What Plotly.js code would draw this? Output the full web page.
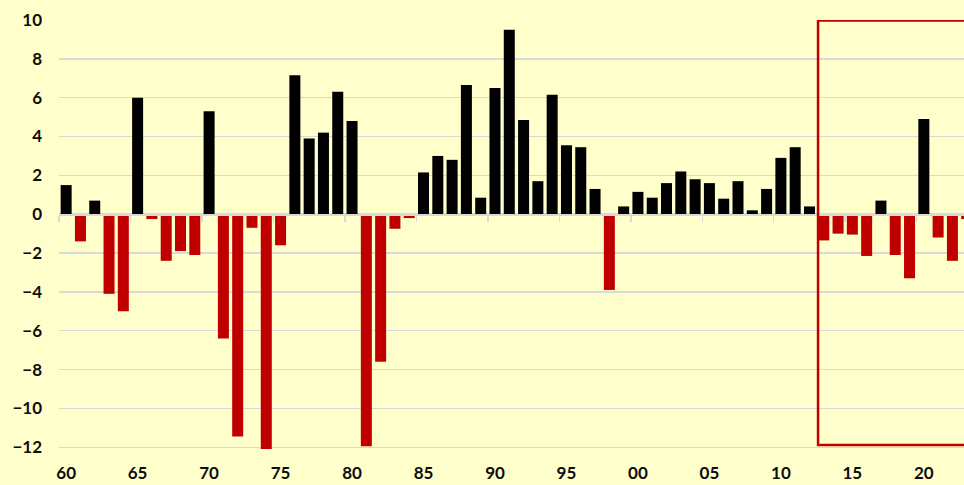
<!DOCTYPE html>
<html>
<head>
<meta charset="utf-8">
<script src="https://cdn.plot.ly/plotly-3.0.1.min.js"></script>
<style>html,body{margin:0;padding:0;background:#FFFFCC;}#chart{width:964px;height:485px;}</style>
</head>
<body>
<div id="chart"></div>
<script>
// Years 1960..2023
const years = [1960,1961,1962,1963,1964,1965,1966,1967,1968,1969,
               1970,1971,1972,1973,1974,1975,1976,1977,1978,1979,
               1980,1981,1982,1983,1984,1985,1986,1987,1988,1989,
               1990,1991,1992,1993,1994,1995,1996,1997,1998,1999,
               2000,2001,2002,2003,2004,2005,2006,2007,2008,2009,
               2010,2011,2012,2013,2014,2015,2016,2017,2018,2019,
               2020,2021,2022,2023];
const values = [1.5,-1.4,0.7,-4.1,-5.0,6.0,-0.25,-2.4,-1.9,-2.1,
                5.3,-6.4,-11.45,-0.7,-12.1,-1.6,7.15,3.9,4.2,6.3,
                4.8,-11.95,-7.6,-0.75,-0.2,2.15,3.0,2.8,6.65,0.85,
                6.5,9.5,4.85,1.7,6.15,3.55,3.45,1.3,-3.9,0.4,
                1.15,0.85,1.6,2.2,1.8,1.6,0.8,1.7,0.2,1.3,
                2.9,3.45,0.4,-1.35,-1.0,-1.05,-2.15,0.7,-2.1,-3.3,
                4.9,-1.2,-2.4,-0.25];
const xTickVals = [1960,1965,1970,1975,1980,1985,1990,1995,2000,2005,2010,2015,2020];
const xTickText = ["60","65","70","75","80","85","90","95","00","05","10","15","20"];
const yTickVals = [-12,-10,-8,-6,-4,-2,0,2,4,6,8,10];
const boundaryTicks = [1959.5,1964.5,1969.5,1974.5,1979.5,1984.5,1989.5,1994.5,1999.5,2004.5,2009.5,2014.5,2019.5];
const boxYears = [2012.6, 2024];
const boxValues = [-11.88, 9.97];

const POS = '#000000', NEG = '#C00000', GRID = '#D9D9D9', BG = '#FFFFCC';
const xRange = [1959.5, 2022.81];
const yRange = [-12.09, 10];
const font = {family: 'Lato, "Open Sans", sans-serif', size: 17, color: '#0D0D0D', weight: 700};

const traces = [
  {
    type: 'bar', x: years, y: values,
    marker: {color: values.map(v => v >= 0 ? POS : NEG), line: {width: 0}},
    hoverinfo: 'x+y', showlegend: false
  },
  {
    type: 'scatter', mode: 'none', x: years, y: values, xaxis: 'x2',
    hoverinfo: 'skip', showlegend: false
  }
];

const layout = {
  width: 964, height: 485,
  margin: {l: 59, r: 0, t: 20, b: 36, pad: 0},
  paper_bgcolor: BG, plot_bgcolor: BG,
  bargap: 0.23,
  font: font,
  showlegend: false,
  xaxis: {
    range: xRange, tickvals: xTickVals, ticktext: xTickText,
    showgrid: false, zeroline: false, showline: false, ticks: '',
    tickfont: font, ticklabelstandoff: 12, fixedrange: true
  },
  xaxis2: {
    overlaying: 'x', anchor: 'free', position: -yRange[0] / (yRange[1] - yRange[0]), range: xRange,
    tickvals: boundaryTicks, showticklabels: false, ticks: 'outside', ticklen: 6,
    tickcolor: GRID, tickwidth: 1.5, showline: true, linecolor: GRID, linewidth: 1.5,
    showgrid: false, zeroline: false, fixedrange: true
  },
  yaxis: {
    range: yRange, tickvals: yTickVals, showgrid: true, gridcolor: GRID, gridwidth: 1.5,
    zeroline: false, showline: false, ticks: '', tickfont: font, ticklabelstandoff: 16,
    fixedrange: true
  },
  shapes: [{
    type: 'path', xref: 'x', yref: 'y',
    path: `M ${boxYears[1]},${boxValues[1]} L ${boxYears[0]},${boxValues[1]} L ${boxYears[0]},${boxValues[0]} L ${boxYears[1]},${boxValues[0]}`,
    line: {color: NEG, width: 2.5}, layer: 'above'
  }]
};

Plotly.newPlot('chart', traces, layout, {displayModeBar: false, staticPlot: true});
</script>
</body>
</html>
